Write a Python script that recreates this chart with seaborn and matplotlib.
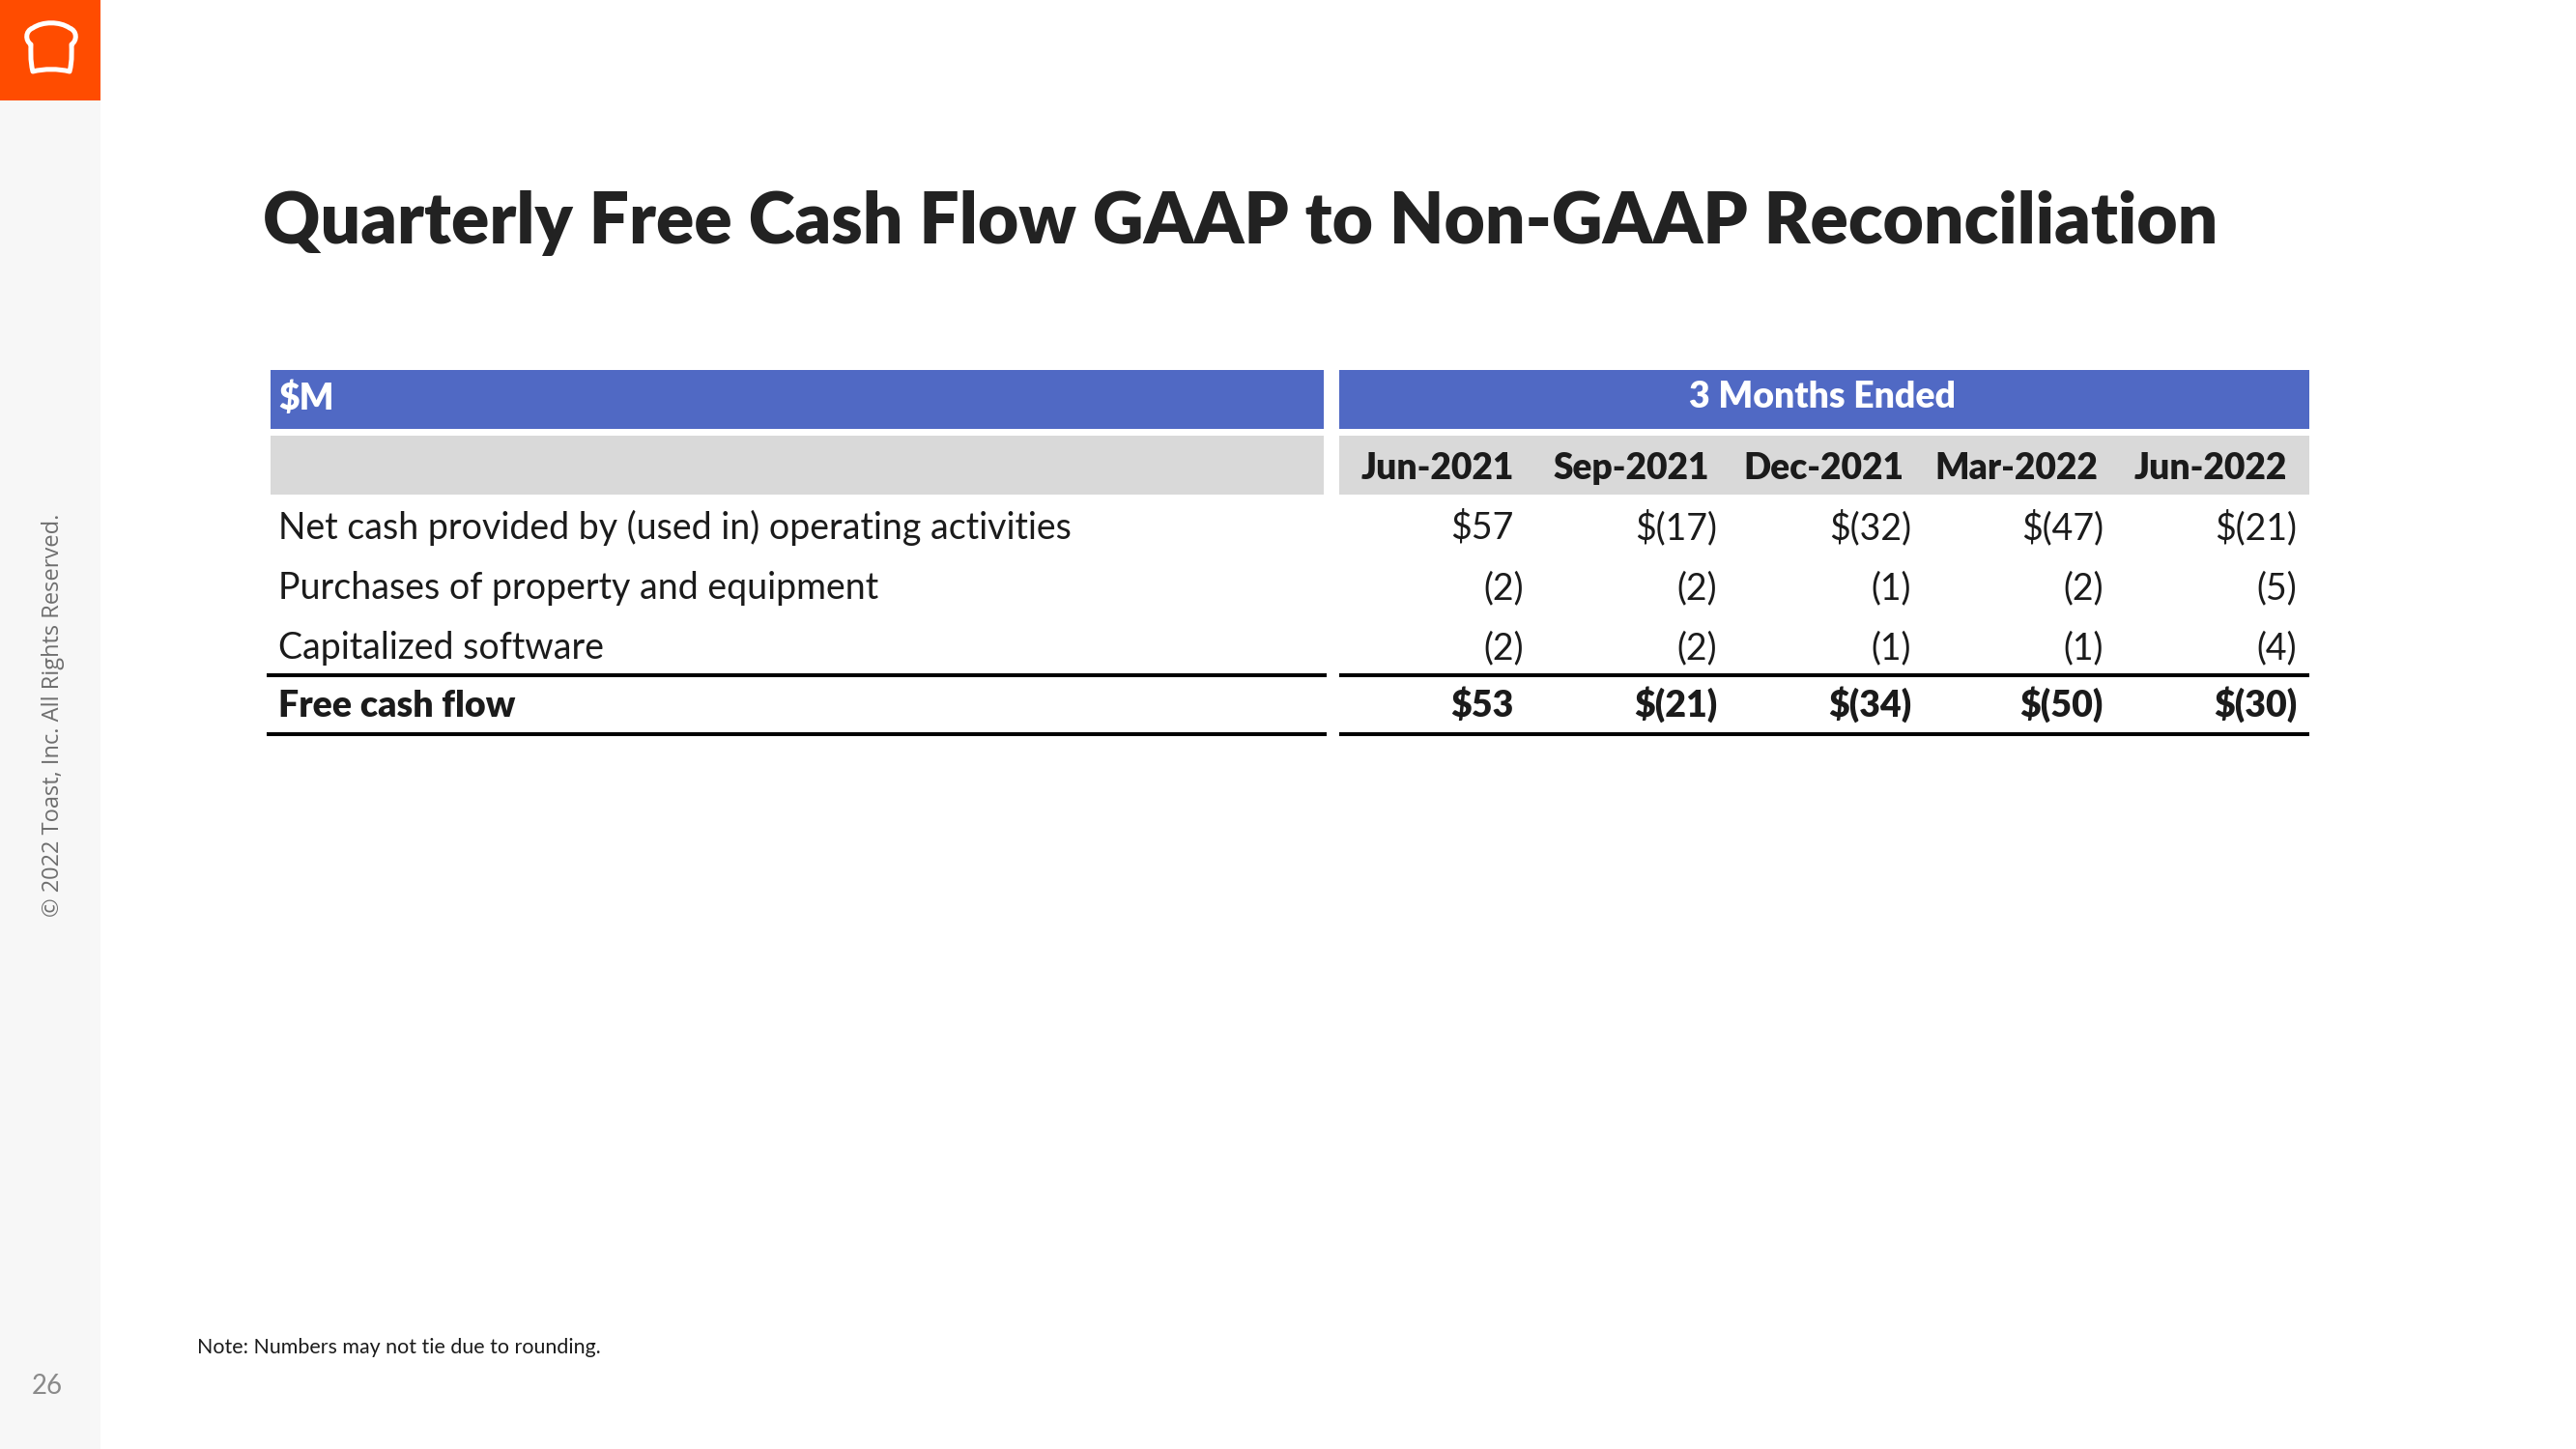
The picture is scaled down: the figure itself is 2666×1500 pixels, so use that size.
import matplotlib
matplotlib.use("Agg")
import matplotlib.pyplot as plt
import seaborn as sns
import pandas as pd
import numpy as np
from matplotlib.patches import Rectangle, PathPatch
from matplotlib.path import Path

# ---------------- data ----------------
title = "Quarterly Free Cash Flow GAAP to Non-GAAP Reconciliation"
unit_label = "$M"
period_group = "3 Months Ended"
periods = ["Jun-2021", "Sep-2021", "Dec-2021", "Mar-2022", "Jun-2022"]
row_labels = [
    "Net cash provided by (used in) operating activities",
    "Purchases of property and equipment",
    "Capitalized software",
    "Free cash flow",
]
net_cash_operating = [57, -17, -32, -47, -21]
purchases_ppe = [-2, -2, -1, -2, -5]
capitalized_software = [-2, -2, -1, -1, -4]
free_cash_flow = [53, -21, -34, -50, -30]
dollar_rows = [True, False, False, True]
bold_rows = [False, False, False, True]
note_text = "Note: Numbers may not tie due to rounding."
copyright_text = "© 2022 Toast, Inc. All Rights Reserved."
page_number = "26"

table = pd.DataFrame(
    [net_cash_operating, purchases_ppe, capitalized_software, free_cash_flow],
    index=row_labels, columns=periods)


def fmt(v, dollar):
    s = f"({abs(v)})" if v < 0 else f"{v}"
    return ("$" + s) if dollar else s


# ---------------- style ----------------
sns.set_theme(style="white")
plt.rcParams['font.family'] = ['Lato', 'DejaVu Sans']

W, H = 2666, 1500
fig = plt.figure(figsize=(W / 100, H / 100), dpi=100)
fig.patch.set_facecolor("white")
ax = fig.add_axes([0, 0, 1, 1])
ax.set_xlim(0, W)
ax.set_ylim(H, 0)
ax.axis("off")
renderer = fig.canvas.get_renderer()

BLUE = "#5069C4"
GRAY = "#D9D9D9"
ORANGE = "#FF4C00"
TXT = "#1b1b1b"
BOLD = "heavy"


def fit(x, y, s, target_w, **kw):
    t = ax.text(x, y, s, fontsize=20, **kw)
    w = t.get_window_extent(renderer).width
    t.set_fontsize(20 * target_w / w)
    return t


def width_of(s, size, **kw):
    t = ax.text(0, 0, s, fontsize=size, **kw)
    w = t.get_window_extent(renderer).width
    t.remove()
    return w


# side strip + logo
ax.add_patch(Rectangle((0, 0), 104, H, facecolor="#F7F7F7", edgecolor="none"))
ax.add_patch(Rectangle((0, 0), 104, 104, facecolor=ORANGE, edgecolor="none"))
verts = [(34, 74),
         (31, 62), (32, 52), (32, 46),
         (26, 42), (26, 32), (34, 29),
         (44, 22), (62, 22), (72, 29),
         (80, 32), (80, 42), (74, 46),
         (74, 52), (75, 62), (72, 74),
         (60, 71), (46, 71), (34, 74),
         (34, 74)]
codes = [Path.MOVETO] + [Path.CURVE4] * 18 + [Path.CLOSEPOLY]
ax.add_patch(PathPatch(Path(verts, codes), facecolor="none", edgecolor="white",
                       lw=3.6, joinstyle="round"))

# copyright (rotated)
t = ax.text(55, 740, copyright_text, rotation=90, ha="center", va="center",
            color="#6E6E6E", family=["Open Sans", "DejaVu Sans"], fontsize=10)
h = t.get_window_extent(renderer).height
t.set_fontsize(10 * 416 / h)

# page number
fit(33, 1443, page_number, 32, color="#8A8A8A", va="baseline", ha="left")

# note
fit(204, 1401, note_text, 417, color=TXT, va="baseline", ha="left")

# title
fit(272, 252, title, 2024, color="#222222", fontweight=BOLD, va="baseline")

# table backgrounds
LX0, LX1 = 280, 1370
RX0, RX1 = 1386, 2390
ax.add_patch(Rectangle((LX0, 383), LX1 - LX0, 61, facecolor=BLUE, edgecolor="none"))
ax.add_patch(Rectangle((RX0, 383), RX1 - RX0, 61, facecolor=BLUE, edgecolor="none"))
ax.add_patch(Rectangle((LX0, 451), LX1 - LX0, 61, facecolor=GRAY, edgecolor="none"))
ax.add_patch(Rectangle((RX0, 451), RX1 - RX0, 61, facecolor=GRAY, edgecolor="none"))

# header texts
hdr = fit(1748, 422, period_group, 276, color="white", fontweight=BOLD,
          va="baseline", ha="left")
hsize = hdr.get_fontsize()
ax.text(288, 424, unit_label, color="white", fontweight=BOLD, fontsize=hsize,
        va="baseline", ha="left")
header_centers = [1488, 1688, 1887, 2087, 2288]
ref = width_of(periods[0], 20, fontweight=BOLD)
psize = 20 * 159 / ref
for xc, p in zip(header_centers, periods):
    ax.text(xc, 496, p, fontsize=psize, fontweight=BOLD, color=TXT,
            ha="center", va="baseline")

# body
ref = width_of(row_labels[0], 20)
bsize = 20 * 823 / ref
paren_right = [1577, 1777, 1978, 2177, 2377]
baselines = [558, 620, 682, 742]
for i, lab in enumerate(table.index):
    wgt = BOLD if bold_rows[i] else "normal"
    ax.text(288, baselines[i], lab, fontsize=bsize, fontweight=wgt, color=TXT,
            ha="left", va="baseline")
    pw = width_of(")", bsize, fontweight=wgt)
    for j, p in enumerate(table.columns):
        v = table.loc[lab, p]
        x = paren_right[j] if v < 0 else paren_right[j] - pw
        ax.text(x, baselines[i], fmt(v, dollar_rows[i]), fontsize=bsize,
                fontweight=wgt, color=TXT, ha="right", va="baseline")

# rules
for y in (699, 760):
    ax.plot([276, 1373], [y, y], color="black", lw=2.9, solid_capstyle="butt")
    ax.plot([1386, 2390], [y, y], color="black", lw=2.9, solid_capstyle="butt")

fig.savefig("out.png", dpi=100, facecolor="white")
